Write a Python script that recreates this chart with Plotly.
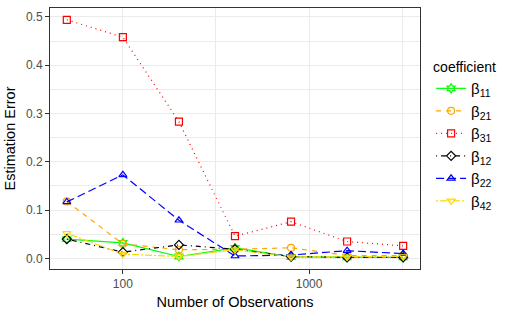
import plotly.graph_objects as go

n_obs = [50, 100, 200, 400, 800, 1600, 3200]

names = ["β<sub>11</sub>", "β<sub>21</sub>", "β<sub>31</sub>", "β<sub>12</sub>", "β<sub>22</sub>", "β<sub>42</sub>"]
b11 = [0.040, 0.032, 0.004, 0.022, 0.003, 0.002, 0.002]
b21 = [0.118, 0.030, 0.018, 0.019, 0.022, 0.006, 0.006]
b31 = [0.494, 0.458, 0.283, 0.046, 0.076, 0.035, 0.026]
b12 = [0.040, 0.013, 0.028, 0.019, 0.004, 0.002, 0.002]
b22 = [0.117, 0.173, 0.079, 0.005, 0.007, 0.016, 0.010]
b42 = [0.052, 0.009, 0.004, 0.018, 0.003, 0.003, 0.004]
series = [b11, b21, b31, b12, b22, b42]

colors = ["#00FF00", "#FFA500", "#FF0000", "#000000", "#0000FF", "#FFD700"]
symbols = ["hexagram-open", "circle-open", "square-open", "diamond-open", "triangle-up-open", "triangle-down-open"]
dashes = ["solid", "5px,5px", "1px,4px", "1px,4px,5px,4px", "8px,4px", "2px,2px,7px,2px"]

fig = go.Figure()
for nm, ys, c, s, d in zip(names, series, colors, symbols, dashes):
    fig.add_trace(go.Scatter(
        x=n_obs, y=ys, name=nm, mode="lines+markers",
        line=dict(color=c, width=1.2, dash=d),
        marker=dict(symbol=s, size=7, color=c, line=dict(width=1.2, color=c)),
    ))

fig.update_layout(
    width=524, height=315,
    margin=dict(l=50, r=104, t=7, b=44),
    paper_bgcolor="white", plot_bgcolor="white",
    font=dict(family="Liberation Sans, Arial, sans-serif", color="#000000"),
    legend=dict(
        title=dict(text="coefficient", font=dict(size=14, color="#000000")),
        x=1.03, xanchor="left", y=0.51, yanchor="middle",
        font=dict(size=15, color="#000000"),
        tracegroupgap=0, itemwidth=30,
    ),
)
fig.update_xaxes(
    type="log", range=[1.6087, 3.5955],
    tickvals=[100, 1000], ticktext=["100", "1000"],
    tickfont=dict(size=12, color="#4D4D4D"),
    ticks="outside", ticklen=4, tickcolor="#333333", tickwidth=1,
    showgrid=True, gridcolor="#EBEBEB", gridwidth=1,
    minor=dict(tickvals=[316.23, 3162.3], showgrid=True, gridcolor="#EBEBEB", gridwidth=1, ticks=""),
    showline=True, mirror=True, linecolor="#333333", linewidth=1,
    zeroline=False,
    title=dict(text="Number of Observations", font=dict(size=14.5, color="#000000"), standoff=6),
)
fig.update_yaxes(
    range=[-0.0219, 0.5184],
    tickvals=[0, 0.1, 0.2, 0.3, 0.4, 0.5], ticktext=["0.0", "0.1", "0.2", "0.3", "0.4", "0.5"],
    tickfont=dict(size=12, color="#4D4D4D"),
    ticks="outside", ticklen=4, tickcolor="#333333", tickwidth=1,
    showgrid=True, gridcolor="#EBEBEB", gridwidth=1,
    minor=dict(tickvals=[0.05, 0.15, 0.25, 0.35, 0.45], showgrid=True, gridcolor="#EBEBEB", gridwidth=1, ticks=""),
    showline=True, mirror=True, linecolor="#333333", linewidth=1,
    zeroline=False,
    title=dict(text="Estimation Error", font=dict(size=14.5, color="#000000"), standoff=6),
)

fig.write_html("out.html", config={"displayModeBar": False})
with open("out.html", "r", encoding="utf-8") as f:
    html = f.read()
html = html.replace("<head>", "<head><style>html,body{margin:0;padding:0;overflow:hidden;}</style>", 1)
with open("out.html", "w", encoding="utf-8") as f:
    f.write(html)
